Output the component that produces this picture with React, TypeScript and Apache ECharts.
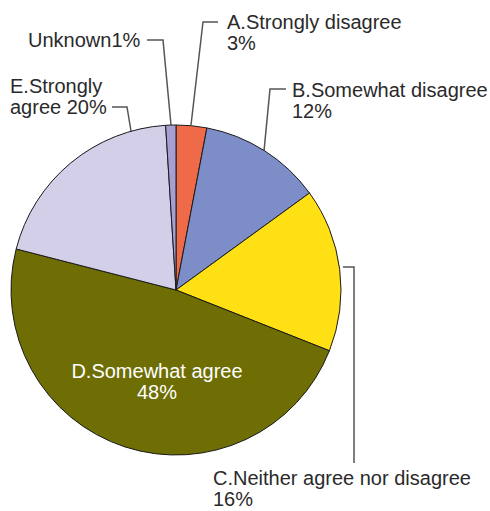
import React, { useEffect, useRef } from "react";
import * as echarts from "echarts";

const categories = [
  "A.Strongly disagree",
  "B.Somewhat disagree",
  "C.Neither agree nor disagree",
  "D.Somewhat agree",
  "E.Strongly agree",
  "Unknown",
];
const values = [3, 12, 16, 48, 20, 1];
const labelTexts = [
  "A.Strongly disagree\n3%",
  "B.Somewhat disagree\n12%",
  "C.Neither agree nor disagree\n16%",
  "D.Somewhat agree\n48%",
  "E.Strongly\nagree 20%",
  "Unknown1%",
];
const colors = ["#EE6A48", "#7D8DC8", "#FFE015", "#6E6E05", "#D3CFE8", "#A79ED3"];

// label anchors (layout only)
const labelAnchors: any[] = [
  { x: 227, y: 32, align: "left", line: [[191, 125], [203, 22], [218, 22]] },
  { x: 292, y: 100, align: "left", line: [[264, 151], [270, 89], [286, 89]] },
  { x: 213, y: 488, align: "left", line: [[343, 267], [354, 267], [354, 463]] },
  { x: 157, y: 381, align: "center", line: null },
  { x: 10, y: 96, align: "left", line: [[131, 131], [127, 107], [112, 107]] },
  { x: 28, y: 40, align: "left", line: [[171, 125], [163, 40], [147, 40]] },
];

export default function App() {
  const ref = useRef<HTMLDivElement>(null);
  useEffect(() => {
    document.body.style.margin = "0";
    const chart = echarts.init(ref.current!, null, { renderer: "svg" });
    chart.setOption({
      animation: false,
      backgroundColor: "#ffffff",
      series: [
        {
          type: "pie",
          center: [176, 290],
          radius: 165,
          startAngle: 90,
          clockwise: true,
          avoidLabelOverlap: false,
          itemStyle: { borderColor: "#1a1a1a", borderWidth: 1 },
          label: {
            show: true,
            position: "outside",
            fontFamily: "Liberation Sans, Arial, Helvetica, sans-serif",
            fontSize: 20,
            lineHeight: 21,
            color: "#2a2a2a",
            formatter: (p: any) => labelTexts[p.dataIndex],
          },
          labelLine: {
            show: true,
            lineStyle: { color: "#555555", width: 1.5 },
          },
          labelLayout: (params: any) => {
            const a = labelAnchors[params.dataIndex];
            const out: any = {
              x: a.x,
              y: a.y,
              align: a.align,
              verticalAlign: "middle",
            };
            if (a.line) out.labelLinePoints = a.line;
            return out;
          },
          data: categories.map((c, i) => {
            const item: any = {
              name: c,
              value: values[i],
              itemStyle: { color: colors[i] },
            };
            if (i === 3) {
              item.label = { position: "inside", color: "#ffffff", align: "center" };
              item.labelLine = { show: false };
            }
            return item;
          }),
        },
      ],
    });
    return () => chart.dispose();
  }, []);
  return <div ref={ref} style={{ width: 490, height: 511 }} />;
}
